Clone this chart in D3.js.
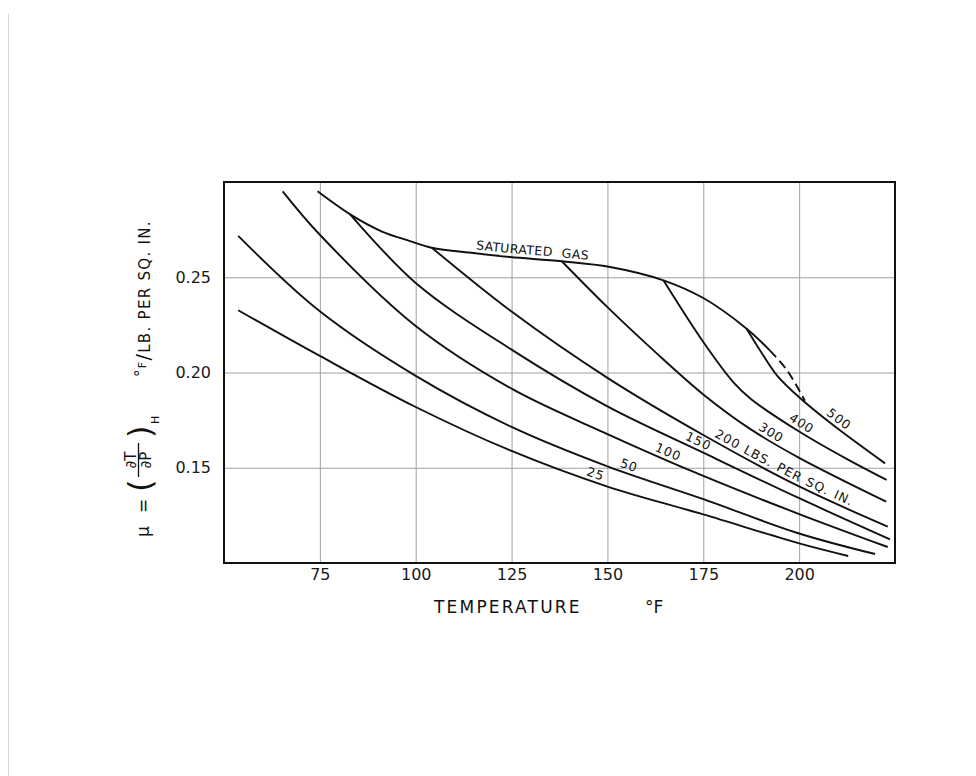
<!DOCTYPE html>
<html>
<head>
<meta charset="utf-8">
<script src="https://cdn.jsdelivr.net/npm/d3@7"></script>
<style>
  body { margin: 0; background: #fff; }
  svg { display: block; font-family: "DejaVu Sans", sans-serif; }
</style>
</head>
<body>
<div id="chart"></div>
<script>
const xTicks = [75, 100, 125, 150, 175, 200];
const yTicks = [0.15, 0.20, 0.25];

const t25 = [53.7, 75, 100, 125, 150, 175, 200, 212.8];
const mu25 = [0.2327, 0.2087, 0.1819, 0.1588, 0.1401, 0.1255, 0.1103, 0.1037];

const t50 = [53.7, 75, 100, 125, 150, 175, 200, 219.8];
const mu50 = [0.2717, 0.2321, 0.1982, 0.1714, 0.1507, 0.1335, 0.1155, 0.1047];

const t100 = [65.3, 75, 100, 125, 150, 175, 200, 223.1];
const mu100 = [0.2951, 0.2723, 0.2244, 0.1915, 0.1677, 0.1457, 0.1257, 0.1084];

const t150 = [82.9, 100, 125, 150, 175, 200, 223.7];
const mu150 = [0.2830, 0.2470, 0.2120, 0.1822, 0.1579, 0.1340, 0.1124];

const t200 = [104.2, 125, 150, 175, 200, 223.1];
const mu200 = [0.2655, 0.2320, 0.1972, 0.1672, 0.1402, 0.1191];

const t300 = [138.1, 150, 162.5, 175, 187.5, 200, 222.7];
const mu300 = [0.2584, 0.2343, 0.2107, 0.1885, 0.1700, 0.1552, 0.1322];

const t400 = [164.6, 175, 182.8, 187.5, 200, 212.5, 222.8];
const mu400 = [0.2484, 0.2160, 0.1950, 0.1860, 0.1690, 0.1545, 0.1436];

const t500 = [186.3, 190, 194.2, 200, 209.1, 222.4];
const mu500 = [0.2230, 0.2110, 0.1985, 0.1870, 0.1720, 0.1523];

// ligne du gaz saturé (pointillée après satDashFrom)
const satT = [74.4, 82.9, 91.2, 98.5, 104.2, 115, 124.6, 138.1, 150.7, 164.6, 175, 186.3, 192.4, 196.8, 201.5];
const satMu = [0.2951, 0.2830, 0.2740, 0.2690, 0.2655, 0.2627, 0.2606, 0.2584, 0.2554, 0.2484, 0.2391, 0.2230, 0.2115, 0.2013, 0.1852];
const satDashFrom = 192.4;

const pressures = ["25", "50", "100", "150", "200", "300", "400", "500"];
const curveLabels = ["25", "50", "100", "150", "200 LBS. PER SQ. IN.", "300", "400", "500"];
const labelAtT = [146.2, 154.9, 165, 172.8, 177.3, 191.6, 199.5, 209.1];

/////////////////////////////////////////////////////////

const W = 976, H = 776;
const margin = {top: 182, left: 224};
const plotW = 671, plotH = 381;

const svgRoot = d3.select("#chart").append("svg")
  .attr("width", W).attr("height", H);

// bord gauche de la feuille scannée
svgRoot.append("line")
  .attr("x1", 8.5).attr("x2", 8.5).attr("y1", 14).attr("y2", H)
  .attr("stroke", "#d6d6d6").attr("stroke-width", 1);

const svg = svgRoot.append("g")
  .attr("transform", `translate(${margin.left},${margin.top})`);

const x = d3.scaleLinear().domain([50, 225]).range([0, plotW]);
const y = d3.scaleLinear().domain([0.10, 0.30]).range([plotH, 0]);

// axe X + grille verticale
const gx = svg.append("g")
  .attr("transform", `translate(0,${plotH})`)
  .call(d3.axisBottom(x).tickValues(xTicks).tickSize(-plotH).tickPadding(6).tickFormat(d3.format("d")));
gx.select(".domain").remove();
gx.selectAll("line").attr("stroke", "#a0a0a0").attr("stroke-width", 1);
gx.selectAll("text").attr("font-size", 16).attr("fill", "#1a1a1a")
  .attr("font-family", "DejaVu Sans, sans-serif");

// axe Y + grille horizontale
const gy = svg.append("g")
  .call(d3.axisLeft(y).tickValues(yTicks).tickSize(-plotW).tickPadding(13).tickFormat(d3.format(".2f")));
gy.select(".domain").remove();
gy.selectAll("line").attr("stroke", "#a0a0a0").attr("stroke-width", 1);
gy.selectAll("text").attr("font-size", 16).attr("fill", "#1a1a1a")
  .attr("font-family", "DejaVu Sans, sans-serif");

// cadre
svg.append("rect")
  .attr("x", 0).attr("y", 0).attr("width", plotW).attr("height", plotH)
  .attr("fill", "none").attr("stroke", "#111").attr("stroke-width", 2);

/////////////////////////////////////////////////////////

const line = d3.line()
  .x(d => x(d[0]))
  .y(d => y(d[1]))
  .curve(d3.curveCatmullRom.alpha(0.5));

const curvesT = [t25, t50, t100, t150, t200, t300, t400, t500];
const curvesMu = [mu25, mu50, mu100, mu150, mu200, mu300, mu400, mu500];

const Courbes = svg.append("g")
  .attr("fill", "none").attr("stroke", "#111").attr("stroke-width", 1.9);

Courbes.selectAll("path.iso")
  .data(pressures)
  .join("path")
    .attr("class", "iso")
    .attr("id", p => "c" + p)
    .attr("d", (p, i) => line(d3.zip(curvesT[i], curvesMu[i])));

const satPts = d3.zip(satT, satMu);
Courbes.append("path")
  .attr("id", "sat")
  .attr("d", line(satPts.filter(d => d[0] <= satDashFrom)));
Courbes.append("path")
  .attr("d", line(satPts.filter(d => d[0] >= satDashFrom)))
  .attr("stroke-dasharray", "9,5");

/////////////////////////////////////////////////////////

// longueur le long du chemin où x atteint px
function offsetAtX(node, px) {
  let lo = 0, hi = node.getTotalLength();
  for (let k = 0; k < 40; k++) {
    const mid = (lo + hi) / 2;
    if (node.getPointAtLength(mid).x < px) lo = mid; else hi = mid;
  }
  return lo;
}

const Titres = svg.append("g")
  .attr("fill", "#111").attr("font-size", 12.5).attr("letter-spacing", 1);

pressures.forEach((p, i) => {
  const node = document.getElementById("c" + p);
  const words = curveLabels[i].split(" ");
  if (words.length === 1) {
    Titres.append("text")
      .attr("dy", -4)
      .append("textPath")
        .attr("href", "#c" + p)
        .attr("startOffset", offsetAtX(node, x(labelAtT[i])))
        .attr("text-anchor", "middle")
        .text(curveLabels[i]);
  } else {
    // un mot par texte, posés l'un après l'autre le long de la courbe
    let pos = offsetAtX(node, x(labelAtT[i]));
    words.forEach(w => {
      const tp = Titres.append("text")
        .attr("dy", -4)
        .append("textPath")
          .attr("href", "#c" + p)
          .attr("startOffset", pos)
          .text(w);
      pos += tp.node().getComputedTextLength() + 6;
    });
  }
});

const satNode = document.getElementById("sat");
const satText = Titres.append("text")
  .attr("dy", -4).attr("letter-spacing", 0.4)
  .append("textPath")
    .attr("href", "#sat")
    .attr("startOffset", offsetAtX(satNode, x(115.5)));
satText.append("tspan").text("SATURATED");
satText.append("tspan").attr("dx", 9).text("GAS");

/////////////////////////////////////////////////////////

// titre axe X
svgRoot.append("text")
  .attr("x", 434).attr("y", 613)
  .attr("font-size", 17).attr("letter-spacing", 2.2).attr("fill", "#111")
  .text("TEMPERATURE");
svgRoot.append("text")
  .attr("x", 645).attr("y", 613)
  .attr("font-size", 17).attr("fill", "#111")
  .text("°F");

// titre axe Y (unités)
const unite = svgRoot.append("text")
  .attr("transform", "translate(150,377) rotate(-90)")
  .attr("font-size", 15).attr("letter-spacing", 1.3).attr("fill", "#111");
unite.append("tspan").attr("dy", -4).text("°");
unite.append("tspan").attr("font-size", 11).attr("dy", 0).text("F");
unite.append("tspan").attr("font-size", 19).attr("dy", 4).text("/");
unite.append("tspan").text("LB. PER SQ. IN.");

// mu = (dT/dP)_H
const mu = svgRoot.append("g")
  .attr("transform", "translate(149,537) rotate(-90)")
  .attr("fill", "#111");
mu.append("text").attr("x", 0).attr("y", 0).attr("font-size", 17).text("μ");
mu.append("text").attr("x", 24).attr("y", 0).attr("font-size", 17).text("=");
mu.append("text").attr("x", 45).attr("y", 2).attr("font-size", 32).text("(");
mu.append("text").attr("x", 77).attr("y", -13).attr("font-size", 15)
  .attr("text-anchor", "middle").text("∂T");
mu.append("line").attr("x1", 60).attr("x2", 94).attr("y1", -10.5).attr("y2", -10.5)
  .attr("stroke", "#111").attr("stroke-width", 1.3);
mu.append("text").attr("x", 77).attr("y", 2).attr("font-size", 15)
  .attr("text-anchor", "middle").text("∂P");
mu.append("text").attr("x", 99).attr("y", 2).attr("font-size", 32).text(")");
mu.append("text").attr("x", 113).attr("y", 10).attr("font-size", 11).text("H");
</script>
</body>
</html>
